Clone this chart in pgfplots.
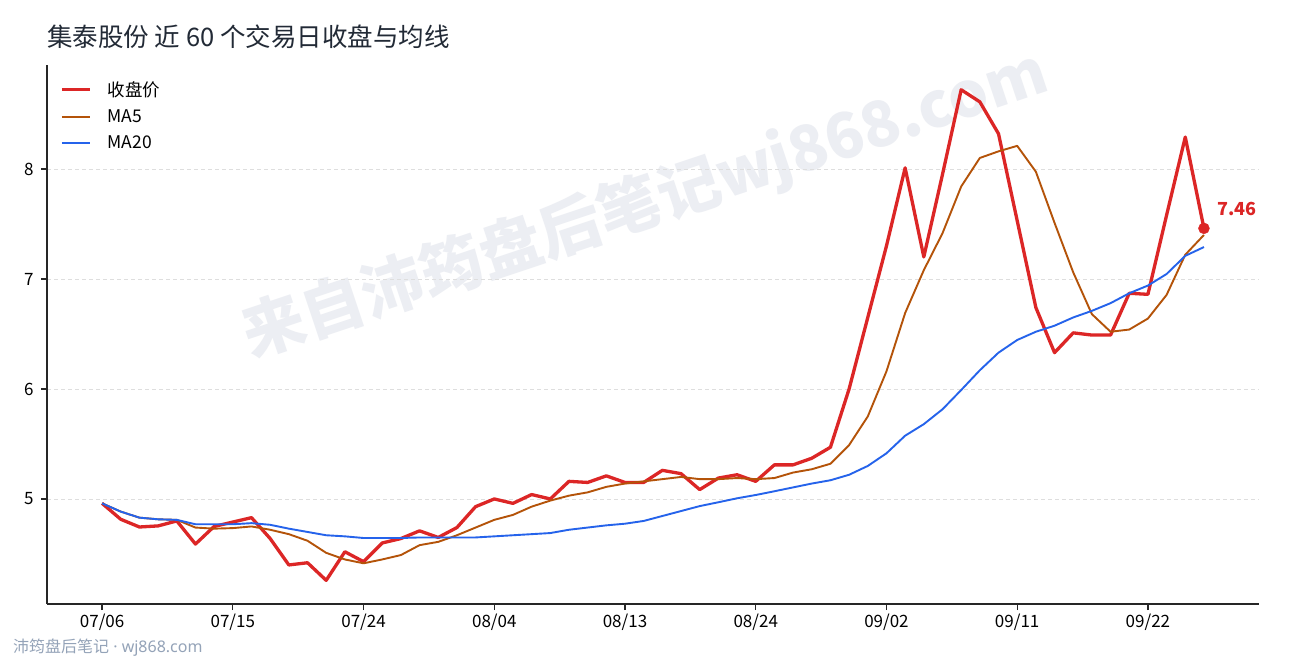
\documentclass[border=0pt]{standalone}
\usepackage{pgfplots}
\usepackage{pgfplotstable}
\pgfplotsset{compat=1.18}
\usepackage{fontspec}
\setmainfont{Noto Sans CJK SC}
\newfontfamily\latinfont{Noto Sans}

\definecolor{closered}{HTML}{DC2626}
\definecolor{maorange}{HTML}{B45309}
\definecolor{mablue}{HTML}{2563EB}
\definecolor{titlecol}{HTML}{222A36}
\definecolor{footcol}{HTML}{94A3B8}
\definecolor{wmark}{RGB}{236,238,243}
\definecolor{spine}{HTML}{262626}

% i, close, MA5, MA20
\pgfplotstableread{
i close ma5 ma20
0 4.96 4.96 4.96
1 4.815 4.885 4.885
2 4.745 4.83 4.83
3 4.755 4.815 4.815
4 4.80 4.81 4.81
5 4.59 4.74 4.77
6 4.75 4.73 4.77
7 4.79 4.735 4.77
8 4.83 4.75 4.78
9 4.64 4.72 4.765
10 4.40 4.68 4.73
11 4.42 4.62 4.70
12 4.26 4.51 4.67
13 4.52 4.45 4.66
14 4.43 4.415 4.645
15 4.60 4.45 4.645
16 4.64 4.49 4.645
17 4.71 4.58 4.65
18 4.65 4.61 4.65
19 4.74 4.67 4.65
20 4.93 4.74 4.65
21 5.00 4.81 4.66
22 4.96 4.855 4.67
23 5.04 4.93 4.68
24 5.00 4.985 4.69
25 5.16 5.03 4.72
26 5.15 5.06 4.74
27 5.21 5.11 4.76
28 5.15 5.14 4.775
29 5.15 5.16 4.80
30 5.26 5.18 4.845
31 5.23 5.20 4.89
32 5.085 5.18 4.935
33 5.19 5.18 4.97
34 5.22 5.19 5.006
35 5.16 5.18 5.036
36 5.31 5.19 5.07
37 5.31 5.24 5.105
38 5.37 5.27 5.14
39 5.47 5.32 5.17
40 6.00 5.49 5.22
41 6.65 5.75 5.30
42 7.30 6.16 5.415
43 8.01 6.69 5.575
44 7.20 7.08 5.68
45 7.95 7.415 5.815
46 8.72 7.84 5.99
47 8.61 8.10 6.17
48 8.32 8.16 6.33
49 7.53 8.21 6.445
50 6.74 7.975 6.52
51 6.33 7.51 6.575
52 6.51 7.06 6.65
53 6.49 6.68 6.71
54 6.49 6.52 6.78
55 6.87 6.54 6.87
56 6.86 6.64 6.94
57 7.58 6.855 7.045
58 8.29 7.22 7.21
59 7.46 7.40 7.29
}\pricedata

\begin{document}
\begin{tikzpicture}[x=1pt,y=1pt]
\useasboundingbox (0,0) rectangle (1290,-660);
\fill[white] (0,0) rectangle (1290,-660);
% watermark
\node[rotate=18.5, text=wmark, inner sep=0,
  font=\fontsize{62.5}{62.5}\selectfont\bfseries] at (645,-205) {来自沛筠盘后笔记wj868.com};
% title and footer
\node[anchor=west, text=titlecol, inner sep=0,
  font=\fontsize{25.5}{25.5}\selectfont] at (47,-37) {集泰股份 近 60 个交易日收盘与均线};
\node[anchor=west, text=footcol, inner sep=0,
  font=\fontsize{16}{16}\selectfont] at (13,-648) {沛筠盘后笔记{\latinfont\ · wj868.com}};

\begin{axis}[
  at={(47pt,-604pt)}, anchor=south west,
  scale only axis,
  width=1212pt, height=539pt,
  xmin=-2.95, xmax=61.95,
  ymin=4.045, ymax=8.945,
  axis x line*=bottom,
  axis y line*=left,
  axis line style={spine, line width=1.6pt},
  xtick={0,7,...,56},
  xticklabels={07/06,07/15,07/24,08/04,08/13,08/24,09/02,09/11,09/22},
  ytick={5,6,7,8},
  tick align=outside,
  major tick length=6pt,
  tick style={spine, line width=1.3pt},
  minor tick num=0,
  /pgf/number format/assume math mode=true,
  ticklabel style={font=\fontsize{17}{17}\selectfont, text=black},
  yticklabel style={xshift=-4pt},
  ymajorgrids,
  grid style={dash pattern=on 4pt off 3pt, color=black!13, line width=0.8pt},
  clip=false,
  legend cell align=left,
  legend style={at={(axis description cs:0,1)}, anchor=north west,
    xshift=13pt, yshift=-14pt, draw=none, fill=none,
    font=\fontsize{17.5}{20}\selectfont, row sep=8pt, inner sep=0pt,
    /tikz/every odd column/.append style={column sep=14pt}},
  legend image code/.code={\draw[#1] (0pt,0pt) -- (28pt,0pt);},
]
\addplot[closered, line width=3.3pt, line join=round] table[x=i, y=close] {\pricedata};
\addlegendentry{收盘价}
\addplot[maorange, line width=1.9pt, line join=round] table[x=i, y=ma5] {\pricedata};
\addlegendentry{MA5}
\addplot[mablue, line width=1.9pt, line join=round] table[x=i, y=ma20] {\pricedata};
\addlegendentry{MA20}
\addplot[only marks, mark=*, mark size=5.5pt, color=closered, forget plot] coordinates {(59,7.46)};
\node[anchor=west, text=closered, inner sep=0, font=\fontsize{18}{18}\selectfont\bfseries]
  at (axis cs:59,7.46) [xshift=13pt, yshift=19pt] {7.46};
\end{axis}
\end{tikzpicture}
\end{document}
